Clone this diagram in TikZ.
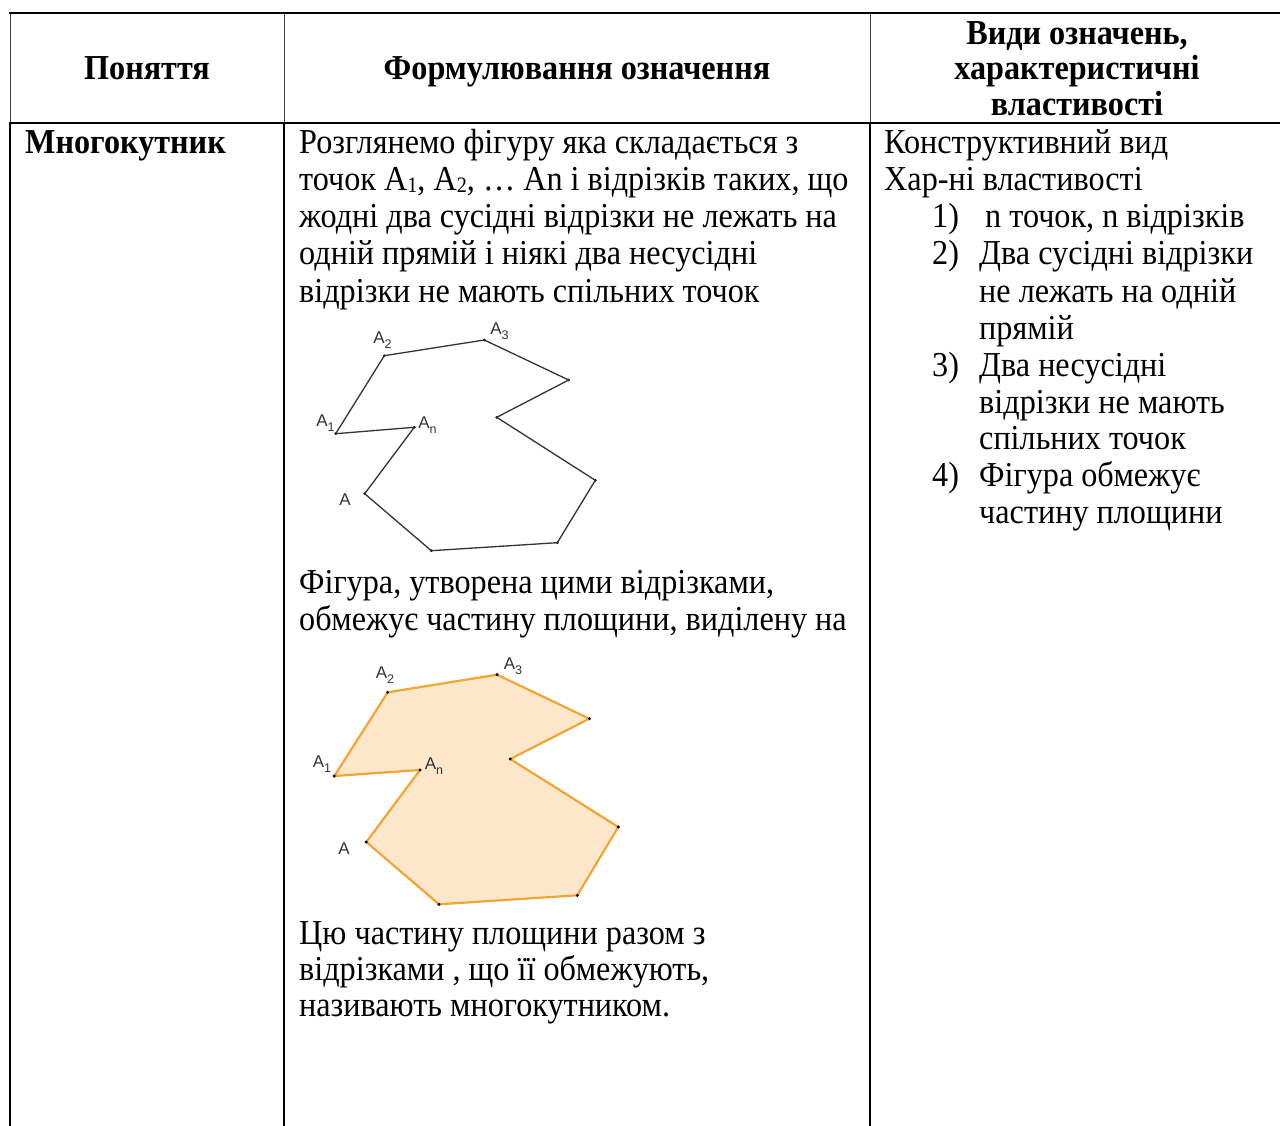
\documentclass[tikz,border=0pt]{standalone}
\usepackage{fontspec}
\setmainfont{Liberation Serif}[FakeStretch=0.92]
\newfontfamily\labelfont{Liberation Sans}
\definecolor{polyfill}{HTML}{FDE7CB}
\definecolor{polyedge}{HTML}{F2A533}
\definecolor{labgray}{HTML}{333333}
\newcommand{\lowsub}[1]{{\fontsize{22}{22}\selectfont\raisebox{-1.5pt}{#1}}}
\newcommand{\ptsub}[1]{{\fontsize{12.5}{12.5}\selectfont\raisebox{-4.5pt}{#1}}}

\begin{document}
\begin{tikzpicture}[x=1pt,y=-1pt,
  body/.style={anchor=base west, inner sep=0pt, font=\fontsize{35}{37}\selectfont},
  head/.style={anchor=base, inner sep=0pt, font=\fontsize{35}{37}\selectfont\bfseries},
  ptlabel/.style={inner sep=0pt, text=labgray, font=\labelfont\fontsize{17}{17}\selectfont},
  thickrule/.style={line width=2.4pt, black},
  thinrule/.style={line width=1pt, black!75},
  vertex/.style={circle, fill=black, inner sep=0pt, minimum size=3pt}]
\useasboundingbox (0,0) rectangle (1280,1126);

% ---- table rules ----
\coordinate (tl) at (10,13);
\coordinate (tr) at (1280,13);
\coordinate (hl) at (10,123);
\coordinate (hr) at (1280,123);
\coordinate (c1t) at (284,13);
\coordinate (c1h) at (284,123);
\coordinate (c1b) at (284,1126);
\coordinate (c2t) at (870,13);
\coordinate (c2h) at (870,123);
\coordinate (c2b) at (870,1126);
\coordinate (lb) at (10,1126);
\draw[thinrule] (tl) -- (hl);
\draw[thinrule] (c1t) -- (c1h);
\draw[thinrule] (c2t) -- (c2h);
\draw[thickrule] (hl) -- (lb);
\draw[thickrule] (c1h) -- (c1b);
\draw[thickrule] (c2h) -- (c2b);
\draw[thickrule] ([xshift=-1.2pt]tl) -- (tr);
\draw[thickrule] ([xshift=-1.2pt]hl) -- (hr);

% ---- header ----
\node[head] (h1) at (147,80) {Поняття};
\node[head] (h2) at (577,80) {Формулювання означення};
\node[head] (h3a) at (1077,45) {Види означень,};
\node[head] (h3b) at (1077,80) {характеристичні};
\node[head] (h3c) at (1077,116) {властивості};

% ---- first column ----
\node[body, font=\fontsize{35}{37}\selectfont\bfseries] (term) at (25,154) {Многокутник};

% ---- second column ----
\node[body] (d1) at (299,154) {Розглянемо фігуру яка складається з};
\node[body] (d2) at (299,191) {точок A\lowsub{1}, A\lowsub{2}, … An і відрізків таких, що};
\node[body] (d3) at (299,228) {жодні два сусідні відрізки не лежать на};
\node[body] (d4) at (299,265) {одній прямій і ніякі два несусідні};
\node[body] (d5) at (299,302) {відрізки не мають спільних точок};
\node[body] (d6) at (299,593) {Фігура, утворена цими відрізками,};
\node[body] (d7) at (299,630) {обмежує частину площини, виділену на};
\node[body] (d8) at (299,944) {Цю частину площини разом з};
\node[body] (d9) at (299,980) {відрізками , що її обмежують,};
\node[body] (d10) at (299,1016) {називають многокутником.};

% ---- outline polygon ----
\node[vertex] (pA)  at (364.7,493.7) {};
\node[vertex] (pAn) at (414.3,427.3) {};
\node[vertex] (pA1) at (335.7,433.7) {};
\node[vertex] (pA2) at (384.3,355.7) {};
\node[vertex] (pA3) at (484.3,340) {};
\node[vertex] (pP4) at (568.7,380) {};
\node[vertex] (pP5) at (496.7,417.3) {};
\node[vertex] (pP6) at (595.3,480.3) {};
\node[vertex] (pP7) at (557.3,542.7) {};
\node[vertex] (pP8) at (431.3,550.7) {};
\draw[line width=1.3pt, black!80, line join=round] (pA.center) -- (pAn.center) -- (pA1.center) -- (pA2.center) -- (pA3.center)
  -- (pP4.center) -- (pP5.center) -- (pP6.center) -- (pP7.center) -- (pP8.center) -- cycle;
\node[ptlabel] (lA2) at (382.5,340) {A\ptsub{2}};
\node[ptlabel] (lA3) at (499.5,331) {A\ptsub{3}};
\node[ptlabel] (lA1) at (325.5,423) {A\ptsub{1}};
\node[ptlabel] (lAn) at (427.5,425) {A\ptsub{n}};
\node[ptlabel] (lA)  at (345,500) {A};

% ---- filled polygon ----
\node[vertex] (qA)  at (366.3,842) {};
\node[vertex] (qAn) at (420,770) {};
\node[vertex] (qA1) at (334.3,776) {};
\node[vertex] (qA2) at (387.7,692.3) {};
\node[vertex] (qA3) at (497,674.7) {};
\node[vertex] (qP4) at (589.3,718.7) {};
\node[vertex] (qP5) at (510.3,759) {};
\node[vertex] (qP6) at (618.3,827) {};
\node[vertex] (qP7) at (577.3,895.3) {};
\node[vertex] (qP8) at (439,904.3) {};
\filldraw[fill=polyfill, draw=polyedge, line width=2.2pt, line join=round]
  (qA.center) -- (qAn.center) -- (qA1.center) -- (qA2.center) -- (qA3.center)
  -- (qP4.center) -- (qP5.center) -- (qP6.center) -- (qP7.center) -- (qP8.center) -- cycle;
\foreach \v in {qA,qAn,qA1,qA2,qA3,qP4,qP5,qP6,qP7,qP8}
  \fill[black] (\v.center) circle (1.6pt);
\node[ptlabel] (mA2) at (385,675) {A\ptsub{2}};
\node[ptlabel] (mA3) at (513,666) {A\ptsub{3}};
\node[ptlabel] (mA1) at (322,764) {A\ptsub{1}};
\node[ptlabel] (mAn) at (434,766) {A\ptsub{n}};
\node[ptlabel] (mA)  at (344,849) {A};

% ---- third column ----
\node[body] (k1) at (884,154) {Конструктивний вид};
\node[body] (k2) at (884,191) {Хар-ні властивості};
\node[body] (n1) at (932,228) {1)};
\node[body] (i1) at (985,228) {n точок, n відрізків};
\node[body] (n2) at (932,265) {2)};
\node[body] (i2a) at (979,265) {Два сусідні відрізки};
\node[body] (i2b) at (979,302) {не лежать на одній};
\node[body] (i2c) at (979,339) {прямій};
\node[body] (n3) at (932,376) {3)};
\node[body] (i3a) at (979,376) {Два несусідні};
\node[body] (i3b) at (979,413) {відрізки не мають};
\node[body] (i3c) at (979,449) {спільних точок};
\node[body] (n4) at (932,486) {4)};
\node[body] (i4a) at (979,486) {Фігура обмежує};
\node[body] (i4b) at (979,523) {частину площини};
\end{tikzpicture}
\end{document}
